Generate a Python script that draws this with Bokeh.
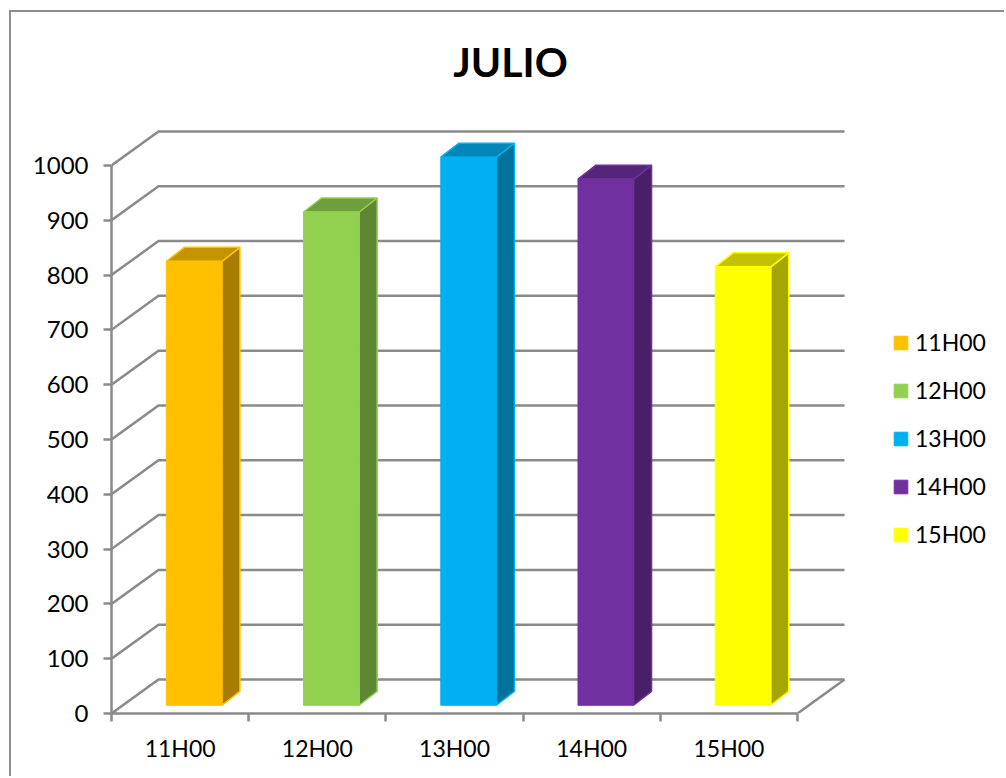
from bokeh.embed import file_html
from bokeh.models import (FixedTicker, Label, Legend, LegendItem, LinearAxis, Range1d)
from bokeh.plotting import figure
from bokeh.resources import INLINE

# Chart data
categories = ["11H00", "12H00", "13H00", "14H00", "15H00"]
values = [810, 900, 1000, 960, 800]
front_colors = ["#FFC000", "#92D050", "#00B0F0", "#7030A0", "#FFFF00"]
top_colors = ["#C49400", "#6F9E3D", "#0086B7", "#552579", "#C2C200"]
side_colors = ["#A67D00", "#5F8733", "#00729C", "#492068", "#A6A600"]
y_ticks = list(range(0, 1001, 100))

GRID = "#8A8A8A"
FONT = "Lato"

# Pseudo-3D offsets, in data units
WALL_DX, WALL_DY = 0.3426, 62
BAR_DX, BAR_DY = 0.131, 25.5
BAR_BASE = 15
BAR_LEFT, BAR_RIGHT = 0.40, 0.805

# The plot area runs to the top and right edges so the heading and legend sit inside it;
# the shadow paints the chart's left and top border lines.
p = figure(width=995, height=766, output_backend="svg", toolbar_location=None,
           x_range=Range1d(0, 6.523), y_range=Range1d(0, 1279),
           x_axis_location=None, y_axis_location=None,
           min_border_left=100, min_border_right=0,
           min_border_top=0, min_border_bottom=65,
           outline_line_color=None, background_fill_color="white",
           border_fill_color="white", margin=(12, 0, 0, 11),
           styles={"box-shadow": "-2px -2px 0 0 #8E8E8E"})
p.grid.visible = False

# Value axis
y_axis = LinearAxis(ticker=FixedTicker(ticks=y_ticks), bounds=(0, 1000),
                    axis_line_color=GRID, axis_line_width=2.5,
                    major_tick_line_color=GRID, major_tick_line_width=2.5,
                    major_tick_in=0, major_tick_out=8, minor_tick_line_color=None,
                    major_label_text_font=FONT, major_label_text_font_size="24px",
                    major_label_text_color="#000000", major_label_standoff=15)
p.add_layout(y_axis, "left")

# Category axis: labels sit mid-slot, tick marks on the slot boundaries
slot_bounds = list(range(len(categories) + 1))
slot_centers = [i + 0.5 for i in range(len(categories))]
x_axis = LinearAxis(ticker=FixedTicker(ticks=slot_centers, minor_ticks=slot_bounds),
                    bounds=(0, len(categories)),
                    major_label_overrides={c: n for c, n in zip(slot_centers, categories)},
                    axis_line_color=GRID, axis_line_width=2.5,
                    major_tick_line_color=None, minor_tick_line_color=GRID,
                    minor_tick_line_width=2.5, minor_tick_in=0, minor_tick_out=8,
                    major_tick_in=0, major_tick_out=0,
                    major_label_text_font=FONT, major_label_text_font_size="23px",
                    major_label_text_color="#000000", major_label_standoff=12)
p.add_layout(x_axis, "below")

# Back wall gridlines with their receding side-wall segments
n = len(categories)
for v in y_ticks:
    p.line([0, WALL_DX, n + WALL_DX], [v, v + WALL_DY, v + WALL_DY],
           line_color=GRID, line_width=2.5, line_join="miter")
p.line([n, n + WALL_DX], [0, WALL_DY], line_color=GRID, line_width=2.5)

# Columns: front, top and side faces
items = []
for i, (name, val) in enumerate(zip(categories, values)):
    x0, x1 = i + BAR_LEFT, i + BAR_RIGHT
    y0, y1 = BAR_BASE, val + BAR_BASE
    p.patch([x1, x1 + BAR_DX, x1 + BAR_DX, x1],
            [y0, y0 + BAR_DY, y1 + BAR_DY, y1],
            fill_color=side_colors[i], line_color=front_colors[i], line_width=1.5)
    p.patch([x0, x0 + BAR_DX, x1 + BAR_DX, x1],
            [y1, y1 + BAR_DY, y1 + BAR_DY, y1],
            fill_color=top_colors[i], line_color=front_colors[i], line_width=1.5)
    front = p.quad(left=x0, right=x1, bottom=y0, top=y1,
                   fill_color=front_colors[i], line_color=front_colors[i], line_width=1)
    items.append(LegendItem(label=name, renderers=[front]))

legend = Legend(items=items, location=(781, 165), orientation="vertical",
                background_fill_alpha=0, border_line_color=None,
                glyph_width=17, glyph_height=17, label_height=20,
                label_standoff=6, spacing=20, padding=0, margin=0,
                label_text_font=FONT, label_text_font_size="23px",
                label_text_color="#000000")
p.add_layout(legend, "center")

# Heading
p.add_layout(Label(x=2.908, y=1190, text="JULIO", text_align="center",
                   text_baseline="middle", text_font=FONT, text_font_size="41px",
                   text_font_style="bold", text_color="#000000"))

open("out.html", "w").write(file_html(p, INLINE))
